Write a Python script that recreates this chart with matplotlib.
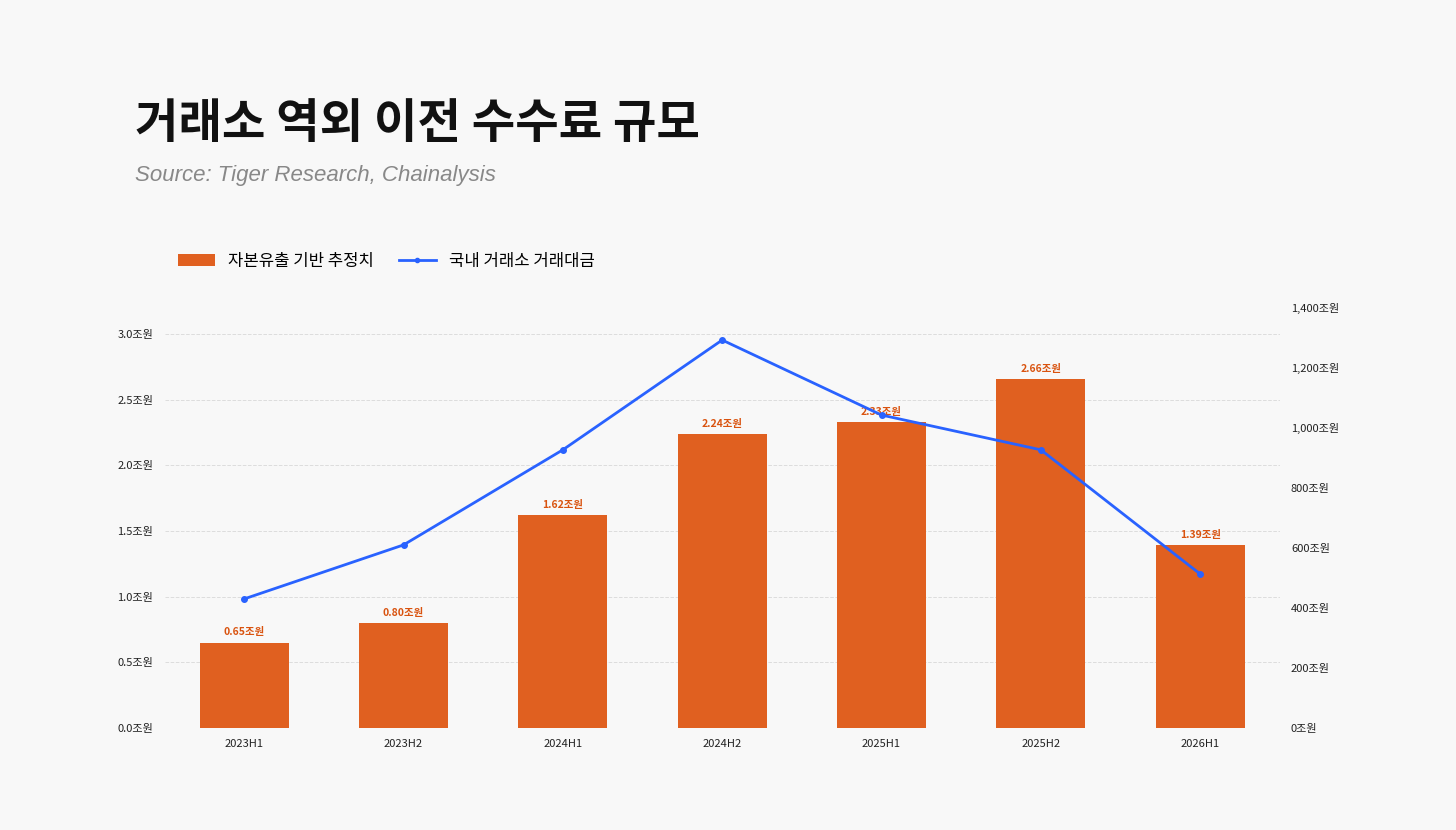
import matplotlib.pyplot as plt
from matplotlib.patches import Patch
from matplotlib.lines import Line2D
from matplotlib.ticker import FuncFormatter

plt.rcParams['font.family'] = ['Noto Sans CJK KR', 'DejaVu Sans']

periods = ['2023H1', '2023H2', '2024H1', '2024H2', '2025H1', '2025H2', '2026H1']
fee_est = [0.65, 0.80, 1.62, 2.24, 2.33, 2.66, 1.39]          # 조원
volume = [430, 610, 927, 1293, 1043, 927, 513]                # 조원

BAR = '#e06020'
LINE = '#2962ff'
BG = '#f8f8f8'

fig = plt.figure(figsize=(14.56, 8.3), dpi=100)
fig.patch.set_facecolor(BG)
ax = fig.add_axes([0.113, 0.123, 0.766, 0.506])
ax.set_facecolor(BG)

x = list(range(len(periods)))
ax.bar(x, fee_est, width=0.56, color=BAR, zorder=2)
for xi, v in zip(x, fee_est):
    ax.text(xi, v + 0.04, f'{v:.2f}조원', ha='center', va='bottom',
            color='#d9530f', fontsize=7.5, fontweight='bold', zorder=5)

ax.set_xlim(-0.5, len(periods) - 0.5)
ax.set_ylim(0, 3.2)
ax.set_yticks([0, 0.5, 1.0, 1.5, 2.0, 2.5, 3.0])
ax.yaxis.set_major_formatter(FuncFormatter(lambda v, p: f'{v:.1f}조원'))
ax.set_xticks(x)
ax.set_xticklabels(periods)
ax.grid(axis='y', color='#dddddd', linestyle='--', linewidth=0.7, zorder=0)
ax.tick_params(length=0, labelsize=8, colors='#222222', pad=8)
for sp in ax.spines.values():
    sp.set_visible(False)

ax2 = ax.twinx()
ax2.plot(x, volume, color=LINE, lw=2, marker='o', markersize=4, zorder=4)
ax2.set_ylim(0, 1400)
ax2.set_yticks(range(0, 1401, 200))
ax2.yaxis.set_major_formatter(FuncFormatter(lambda v, p: f'{int(v):,}조원'))
ax2.tick_params(length=0, labelsize=8, colors='#222222', pad=8)
for sp in ax2.spines.values():
    sp.set_visible(False)

fig.text(0.093, 0.85, '거래소 역외 이전 수수료 규모', fontsize=34,
         fontweight='bold', color='#111111', va='center')
fig.text(0.093, 0.789, 'Source: Tiger Research, Chainalysis', fontsize=16,
         style='italic', color='#888888', va='center', family='Liberation Sans')

handles = [Patch(facecolor=BAR, label='자본유출 기반 추정치'),
           Line2D([0], [0], color=LINE, lw=2, marker='o', markersize=3,
                  label='국내 거래소 거래대금')]
fig.legend(handles=handles, loc='center left', bbox_to_anchor=(0.112, 0.685),
           ncol=2, frameon=False, fontsize=12, handlelength=2.2,
           columnspacing=1.5)

fig.savefig('out.png', dpi=100, facecolor=BG)
